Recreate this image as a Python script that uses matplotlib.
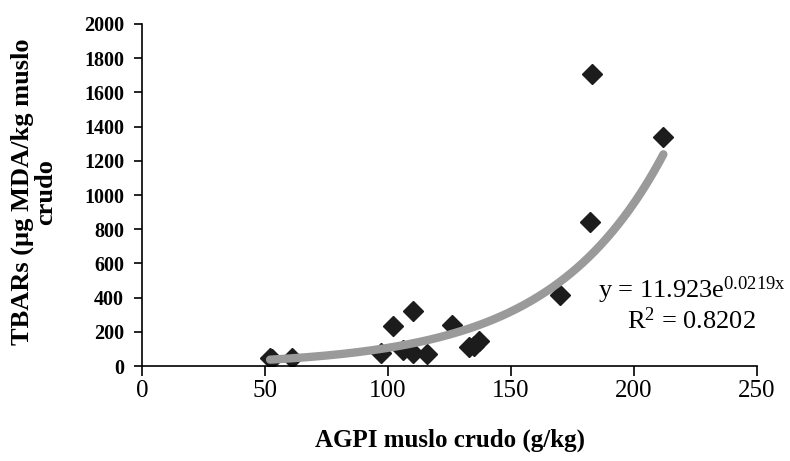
import numpy as np
import matplotlib
matplotlib.use("Agg")
import matplotlib.pyplot as plt

agpi = [52, 53, 61, 97, 102, 106, 110, 110, 116, 126, 133, 135, 137, 170, 182, 183, 212]
tbars = [45, 40, 45, 75, 235, 95, 320, 75, 70, 240, 110, 120, 145, 415, 840, 1710, 1340]
coef_a = 11.923
coef_b = 0.0219
x_ticks = [0, 50, 100, 150, 200, 250]
y_ticks = [0, 200, 400, 600, 800, 1000, 1200, 1400, 1600, 1800, 2000]

plt.rcParams['font.family'] = ['Liberation Serif', 'DejaVu Serif']
plt.rcParams['mathtext.fontset'] = 'custom'
plt.rcParams['mathtext.rm'] = 'Liberation Serif'
plt.rcParams['mathtext.it'] = 'Liberation Serif'
plt.rcParams['mathtext.default'] = 'regular'

fig = plt.figure(figsize=(7.9, 4.61), dpi=100)
ax = fig.add_axes([0.18, 0.206, 0.778, 0.742])

xs = np.linspace(min(agpi), max(agpi), 200)
ax.plot(xs, coef_a * np.exp(coef_b * xs), color='#9a9a9a', lw=6, solid_capstyle='round', zorder=3)
ax.plot(agpi, tbars, linestyle='none', marker='D', markersize=10.5, color='#1c1c1c', zorder=2)

ax.set_xlim(0, 250)
ax.set_ylim(0, 2000)
ax.set_xticks(x_ticks)
ax.set_yticks(y_ticks)
for s in ['top', 'right']:
    ax.spines[s].set_visible(False)
for s in ['left', 'bottom']:
    ax.spines[s].set_linewidth(1.2)
ax.tick_params(axis='x', direction='out', length=7, width=1.2, labelsize=18, pad=3)
ax.tick_params(axis='y', direction='out', length=6, width=1.2, labelsize=14.5, pad=7)
for lab in ax.get_yticklabels():
    lab.set_fontweight('bold')

ax.set_xlabel('AGPI muslo crudo (g/kg)', fontsize=18, fontweight='bold')
ax.xaxis.set_label_coords(0.5, -0.182)
ax.set_ylabel('TBARs (µg MDA/kg muslo\ncrudo', fontsize=19, fontweight='bold',
              linespacing=1.0)
ax.yaxis.set_label_coords(-0.138, 0.51)

ax.text(0.894, 0.18, 'y = 11.923e$^{0.0219x}$\nR$^{2}$ = 0.8202', transform=ax.transAxes,
        ha='center', va='center', fontsize=19, linespacing=1.05,
        multialignment='center')

fig.savefig('out.png', dpi=100)
